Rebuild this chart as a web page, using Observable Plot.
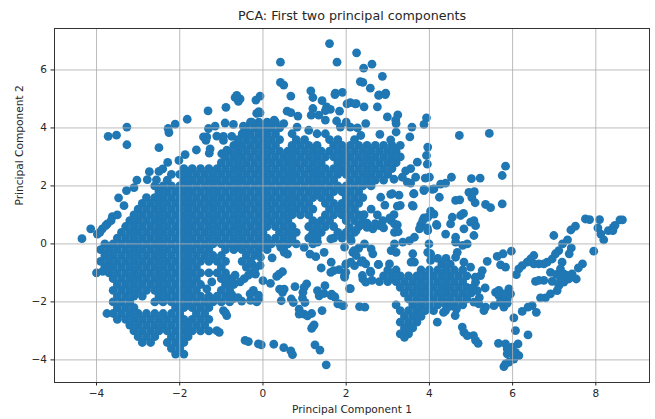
<!DOCTYPE html>
<html>
<head>
<meta charset="utf-8">
<script src="https://cdn.jsdelivr.net/npm/d3@7"></script>
<script src="https://cdn.jsdelivr.net/npm/@observablehq/plot@0.6"></script>
<style>
html,body{margin:0;padding:0;background:#fff;}
svg{display:block;font-family:"DejaVu Sans",sans-serif;}
</style>
</head>
<body>
<div id="chart"></div>
<script>
const titleText = "PCA: First two principal components";
const xLabel = "Principal Component 1";
const yLabel = "Principal Component 2";
const xTicks = [-4,-2,0,2,4,6,8];
const yTicks = [-4,-2,0,2,4,6];

// Dense mass: pc2 of the band, then pc1 of its points.
const bandPc2 = [4.2,4.0,3.8,3.6,3.4,3.2,3.0,2.8,2.6,2.4,2.2,2.0,1.8,1.6,1.4,1.2,1.0,0.8,0.6,0.4,0.2,0,-0.2,-0.4,-0.6,-0.8,-1.0,-1.2,-1.4,-1.6,-1.8,-2.0,-2.2,-2.4,-2.6,-2.8,-3.0,-3.2,-3.4,-3.6,-3.8];
const bandPc1 = [
[-.3,-.1,.1,.3],
[-.4,-.2,0,.2,.4],
[-.5,-.3,-.1,.1,.3,.7,1.3,1.5],
[-.6,-.4,-.2,0,.2,.4,.8,1,1.6,1.8,2.2],
[-.7,-.5,-.3,-.1,.1,.3,.7,.9,1.1,1.3,1.7,1.9,2.1,2.3,2.5,2.7,2.9,3.1,3.3],
[-.8,-.6,-.4,-.2,0,.2,.4,.6,.8,1,1.2,1.4,1.6,1.8,2,2.2,2.4,2.6,2.8,3,3.2],
[-.9,-.7,-.5,-.3,-.1,.1,.3,.5,.7,.9,1.1,1.3,1.5,1.7,1.9,2.1,2.3,2.5,2.7,2.9,3.1,3.3],
[-1,-.8,-.6,-.4,-.2,0,.2,.4,.6,.8,1,1.2,1.4,1.8,2,2.2,2.4,2.6,2.8,3,3.2],
[-1.9,-1.7,-1.5,-1.3,-1.1,-.9,-.7,-.5,-.3,-.1,.1,.3,.5,.7,.9,1.1,1.3,1.5,1.7,1.9,2.1,2.3,2.5,2.7,2.9,3.1],
[-2.2,-2,-1.8,-1.6,-1.4,-1.2,-1,-.8,-.6,-.4,-.2,0,.2,.4,.6,.8,1,1.2,1.4,1.6,1.8,2,2.2,2.4,2.6,2.8,3],
[-2.3,-1.9,-1.7,-1.5,-1.3,-1.1,-.9,-.7,-.5,-.3,-.1,.1,.3,.5,.7,.9,1.1,1.3,1.5,1.7,2.1,2.3,2.5,2.7,2.9],
[-2.6,-2.4,-2.2,-2,-1.8,-1.6,-1.4,-1.2,-1,-.8,-.6,-.4,-.2,0,.2,.4,.6,.8,1,1.2,1.4,1.6,1.8,2,2.2,2.4,2.6],
[-2.5,-2.3,-2.1,-1.9,-1.7,-1.5,-1.3,-1.1,-.9,-.7,-.5,-.3,-.1,.1,.3,.5,.7,.9,1.1,1.3,1.5,1.7,1.9,2.1,2.3],
[-2.8,-2.6,-2.4,-2.2,-2,-1.8,-1.6,-1.4,-1.2,-1,-.8,-.6,-.4,-.2,0,.2,.4,.6,.8,1,1.2,1.4,1.6,2,2.2,2.4],
[-2.9,-2.7,-2.5,-2.3,-2.1,-1.9,-1.7,-1.5,-1.3,-1.1,-.9,-.7,-.5,-.3,-.1,.1,.3,.5,.7,.9,1.1,1.5,1.7,1.9,2.1,2.3],
[-3,-2.8,-2.6,-2.4,-2.2,-2,-1.8,-1.6,-1.4,-1.2,-1,-.8,-.6,-.4,-.2,0,.2,.4,.6,.8,1,1.2,1.6,1.8,2,2.2,2.6],
[-3.1,-2.9,-2.7,-2.5,-2.3,-2.1,-1.9,-1.7,-1.5,-1.3,-1.1,-.9,-.7,-.5,-.3,-.1,.1,.3,.5,.7,.9,1.1,1.5,1.7,1.9,2.1,2.3],
[-3.2,-3,-2.8,-2.6,-2.4,-2.2,-2,-1.8,-1.6,-1.4,-1.2,-1,-.8,-.6,-.4,-.2,0,.2,.4,.6,1.2,1.4,1.6,2,2.2,2.4],
[-3.3,-3.1,-2.9,-2.7,-2.5,-2.3,-2.1,-1.9,-1.7,-1.5,-1.3,-1.1,-.9,-.7,-.5,-.3,-.1,.1,.3,.5,.7,1.1,1.3,1.5,1.7,2.3,2.5],
[-3.4,-3.2,-3,-2.8,-2.6,-2.4,-2.2,-2,-1.8,-1.6,-1.4,-1.2,-1,-.8,-.6,-.4,-.2,0,.4,.6,.8,1.2,1.4,1.8,2,2.2],
[-3.5,-3.3,-3.1,-2.9,-2.7,-2.5,-2.3,-2.1,-1.9,-1.7,-1.5,-1.3,-1.1,-.9,-.7,-.5,-.3,-.1,.1,.3,.5,.7,1.1,1.3,1.7,1.9,2.1],
[-3.8,-3.6,-3.4,-3.2,-3,-2.8,-2.6,-2.4,-2.2,-2,-1.8,-1.6,-1.4,-1.2,-1,-.8,-.6,-.4,-.2,0,.2,.4,.6,.8,1.2],
[-3.9,-3.7,-3.5,-3.3,-3.1,-2.9,-2.7,-2.5,-2.3,-2.1,-1.9,-1.7,-1.5,-1.3,-.9,-.7,-.5,-.3,-.1,.1,.5],
[-3.8,-3.6,-3.4,-3.2,-3,-2.8,-2.6,-2.4,-2.2,-2,-1.8,-1.6,-1.4,-1.2,-1,-.4,-.2],
[-3.9,-3.7,-3.5,-3.3,-3.1,-2.9,-2.7,-2.5,-2.3,-2.1,-1.9,-1.7,-1.5,-1.3,-1.1,-.9,-.5,-.3],
[-3.8,-3.6,-3.4,-3.2,-3,-2.8,-2.6,-2.4,-2.2,-2,-1.8,-1.6,-1,-.4],
[-3.7,-3.5,-3.3,-3.1,-2.9,-2.7,-2.5,-2.3,-2.1,-1.9,-1.7,-1.5,-1.3,-1.1,-.9],
[-3.6,-3.4,-3.2,-3,-2.8,-2.6,-2.4,-2.2,-2,-1.8,-1.6,-1,-.8],
[-3.5,-3.3,-3.1,-2.9,-2.7,-2.5,-2.3,-2.1,-1.9,-1.7,-1.5,-.9,-.7],
[-3.6,-3.4,-3.2,-3,-2.8,-2.6,-2.4,-2.2,-2,-1.8,-1.6,-1,-.8],
[-3.5,-3.3,-3.1,-2.9,-2.5,-2.3,-2.1,-1.9,-1.7,-1.5,-1.3,-1.1,-.9],
[-3.6,-3.4,-3.2,-2.6,-2.4,-2.2,-2,-1.8,-1.6,-1.4,-1.2,-1,-.8],
[-3.5,-3.3,-3.1,-2.1,-1.9,-1.7,-1.5,-1.3],
[-3.75,-3.6,-3.4,-3.2,-3,-2.8,-2.6,-2.4,-2.2,-2,-1.6,-1.4],
[-3.5,-3.3,-3.1,-2.9,-2.7,-2.5,-2.3,-2.1,-1.9,-1.7,-1.5,-1.3],
[-3.2,-3,-2.8,-2.6,-2.4,-2.2,-2,-1.8,-1.6,-1.4],
[-3.1,-2.9,-2.7,-2.5,-2.3,-2.1,-1.9,-1.7,-1.5,-1.3],
[-3,-2.8,-2.6,-2.2,-2,-1.8],
[-2.9,-2.7,-2.3,-2.1,-1.9],
[-2.2,-2],
[-2.1,-1.9]
];
// Right-hand dense cluster, same reading.
const clusterPc2 = [-0.5,-0.7,-0.9,-1.1,-1.3,-1.5,-1.7,-1.9,-2.1,-2.3,-2.5,-2.7,-2.9,-3.1];
const clusterPc1 = [
[4.2,4.4],
[4.3,4.5],
[3,3.2,3.8,4,4.2,4.4,4.6,4.8],
[2.9,3.1,3.3,3.5,3.7,3.9,4.1,4.3,4.5,4.7,4.9],
[2.8,3,3.2,3.4,3.6,3.8,4,4.2,4.4,4.6,4.8],
[3.3,3.5,3.7,3.9,4.1,4.3,4.5,4.7,4.9],
[3.4,3.6,3.8,4,4.2,4.4,4.6,4.8,5],
[3.5,3.7,3.9,4.1,4.3,4.5,4.7,4.9],
[3.2,3.6,3.8,4,4.2,4.4,4.6,4.8],
[3.3,3.5,3.7,3.9,4.1],
[3.4,3.6,3.8],
[3.3,3.5,3.7],
[3.4,3.6],
[3.3,3.5]
];
// Loose points, each read individually as [pc1, pc2].
const loosePoints = [
[-3.72,3.71],[-3.52,3.75],[-3.27,4.03],[-3.27,3.42],[-2.5,3.32],[-2.28,3.98],[-2.26,3.84],[-2.11,4.13],[-1.82,4.3],[-1.32,4.59],[-.89,4.71],[-.59,4.92],[-.55,5.0],[-.67,5.05],[-.63,5.12],[-.17,4.96],[-.07,5.1],
[-1.6,3.24],[-1.87,3.08],[-2.02,2.88],[-2.29,2.81],[-2.41,2.59],[-2.5,2.5],[-2.73,2.49],[-3.03,2.2],[-3.28,1.84],[-3.47,1.59],[-3.1,1.94],[-2.78,2.22],[-2.56,2.21],[-3.34,1.32],
[-4.35,.18],[-4.14,.52],[-3.98,.34],[-3.86,.52],[-3.74,.69],[-3.62,.94],[-3.5,1],[-3.78,.63],[-3.92,.4],[-3.65,.8],
[-1.27,3.28],[-1.29,3.13],[-1.35,3.69],[-1.43,3.69],[-1.37,3.57],[-1.31,3.98],[-1.15,4.06],[-.91,4.17],[-.71,4.12],[-.47,4.06],[-.27,4.2],[-.15,4.5],[-.07,4.52],[-1.11,3.72],[-.95,3.71],[-.95,3.57],[-.75,3.71],[-.99,3.11],[-.87,3.23],[-.35,3.75],[-.6,3.4],
[.42,5.57],[.5,5.48],[.67,5.1],[1.15,5.28],[1.2,5.05],[1.74,5.2],[1.91,5.23],[1.42,4.94],[1.53,4.73],[1.62,4.64],[1.5,4.6],[1.2,4.67],[1.16,4.44],[1.34,4.44],[1.84,4.58],[2.02,4.83],[2.1,4.87],[2.24,4.84],[2.43,4.73],[2.75,4.73],[2.79,5.14],[2.95,5.2],[2.99,4.38],[3.24,4.45],[3.19,4.27],[3.93,4.35],[3.87,4.12],[3.58,4.03],[2.47,4.15],[2.35,3.74],[2.81,3.78],[3.07,3.59],[3.2,3.86],[3.2,4.15],[3.53,3.69],[.58,4.58],[.67,4.53],[.84,4.41],[-.1,4.56],[.27,4.27],[.5,4.15],[.82,4.03],[1.1,3.92],[1.5,4.27],[1.77,4.24],[1.86,4.03],[2,4.2],[2.1,4.03],[2.27,4],
[.42,6.27],[1.6,6.91],[2.25,6.59],[1.78,6.27],[2.42,6.06],[2.62,6.2],[2.87,5.78],[2.34,5.6],[2.4,5.57],[2.58,5.37],[2.78,5.12],[2.94,5.15],[1.73,5.15],[2.22,4.83],[4.72,3.74],[5.44,3.81],
[3.96,3.34],[3.93,3.05],[3.95,2.75],[3.71,2.82],[3.55,2.6],[3.43,2.52],[3.67,2.3],[3.47,2.13],[3.62,1.73],[3.87,1.84],[4.63,1.5],[4.73,1.52],[4.95,1.78],[5.08,1.8],[5.02,1.6],[5.1,1.42],[5.35,1.36],[5.47,1.25],[5.75,1.38],[5.83,2.68],[5.75,2.36],[5.22,2.27],[5.01,2.25],[4.53,2.3],[4.39,2.1],[4.27,2.06],[4.24,1.61],[4.11,1.9],[4,2.3],[3.9,2.27],[4.07,1.88],[3.87,1.88],[3.59,1.33],[3.3,1.33],[3.11,1.73],[3.27,1.68],[2.83,1.61],[2.93,1.34],[3.23,1.3],[3.61,1.3],[3.07,1.71],[3.63,1.73],[3.15,2.23],[3.55,2.1],[3.35,2.3],[4.03,1.13],[3.87,.9],[3.79,.66],[4.18,.64],[3.95,.55],[3.15,1.01],[3.23,.66],[3.05,.9],[2.75,1],[2.43,1.01],[2.5,.72],[2.9,.55],[2.7,.7],
[4.17,.67],[3.96,.46],[3.76,.52],[3.84,.8],[3.96,.92],[4.11,1.03],[4.75,.98],[4.82,1.05],[4.55,.92],[5.07,.8],[5.11,.63],[4.99,.75],[4.83,.52],[5.07,.29],[4.91,0],[4.8,-.05],[4.67,-.29],[4.63,-.46],[4.39,.34],[4.51,.69],[4.63,.23],[4.63,.06],[4.83,-.63],[4.99,-.8],[3.99,0],[3.96,-.29],[4.03,-.34],[4.03,-.57],[3.6,-.34],[3.64,-.63],[3.56,-.63],[3.52,.11],[3.64,.23],[3.36,.06],[3.16,0],[3.2,-.29],[3.08,-.23],[3.04,-.69],[2.78,-.71],[2.58,-.94],[2.4,-1.21],[2.62,-1.26],[3.16,.4],[3.25,.42],[3.08,.8],[3.16,.69],[2.88,.8],[2.8,.63],[2.64,.52],[2.5,.57],[2.32,.63],[2.24,.46],[2.08,.57],[2.12,.11],[1.96,-.11],[2.16,-.29],[2.24,-.4],[2.2,-.75],[2.36,-.63],[2.6,-.17],[2.64,-.34],[2.44,0],[2.3,-.15],[2,-.69],[1.96,-1.09],[2.1,-1.54],[2.32,-2.16],[2.45,-2.18],[1.92,-2.13],[1.84,-2.07],[1.72,-1.82],[1.64,-1.78],[2.47,-1.32],[2.39,-1.09],[2.59,-.98],[2.77,-.71],[2.47,-.69],[2.39,-.58],[2.11,-.63],[2.19,-.23],
[-.04,-3.48],[.26,-3.46],[.5,-3.58],[.67,-3.69],[.71,-3.82],[1.25,-3.48],[1.37,-3.66],[1.52,-4.17],[1.17,-2.91],[1.23,-2.79],[1.2,-2.85],[1.42,-2.3],[2.08,-1.54],[1.49,-1.44],[1.4,-.83],[1.64,-.63],[.22,-.48],[0,-1.27],[.18,-1.36],[.39,-1.04],[.47,-.96],[.33,-1.12],[.77,-1.47],[1.05,-1.38],[.99,-1.5],[.96,-1.67],[.4,-1.56],[.51,-1.56],[.47,-1.67],[.44,-1.96],[.68,-1.9],[.73,-2.02],[.95,-1.87],[1.01,-2.02],[.87,-2.25],[.87,-2.42],[.99,-2.42],[1.17,-2.4],[1.07,-2.48],[1.31,-1.61],[1.35,-1.79],[1.47,-1.71],[1.65,-1.73],[1.73,-1.84],[1.8,-2.07],[1.93,-2.12],[1.63,-.98],[1.7,-.92],[1.83,-.89],[1.99,-.98],[1.96,-1.15],[1.99,-.71],[-.18,-1.04],[-.26,-1.0],[-.1,-1.9],[-.1,-1.78],[-.26,-1.67],[-.26,-.7],[-.14,-.35],[-.06,-.46],[.99,-.12],[1.13,-.35],[1.27,-.44],[1.47,-.29],[1.63,.17],[1.13,.23],[1.31,.06],[.51,-.29],[.59,-.35],[.43,-.12],
[-1.23,-1.31],[-1.35,-1.55],[-.67,-1.08],[-.55,-1.31],[-.45,-1.2],[-.35,-1.08],[-.19,-.85],[-.07,-.74],[-.23,-1.6],[-.11,-1.78],[-.71,-1.89],[-.51,-1.97],[-.31,-1.72],[-.87,-1.37],[-.75,-1.25],[-.9,-1.2],[-1.11,-2.99],[-1.05,-3.05],[-.43,-3.33],[-.35,-3.37],[-.11,-3.45],[-.95,-2.3],[-.87,-2.47],[-.9,-2.38],[-.75,-1.75],[-.6,-1.85],[-.3,-1.95],[-.15,-2],
[-4,-1],[-3.85,-.95],[-3.7,-.9],
[7.75,.86],[7.85,.84],[8.09,.84],[8.05,.55],[8.12,.34],[8.19,.14],[7.95,-.25],[8.3,.46],[8.42,.57],[8.46,.64],[8.58,.83],[8.64,.83],[8.41,.46],[7.51,.61],[7.4,.48],[6.99,.29],[7.32,.14],[7.2,0],[7.41,-.14],[7.36,-.34],[7.11,-.23],[7.03,-.34],[6.95,-.52],[6.83,-.63],[6.75,-.69],[6.63,-.69],[6.51,-.4],[6.43,-.52],[6.35,-.63],[6.23,-.75],[6.15,-.86],[6.09,-1.06],[6.51,-.69],[6.91,-.98],[7.19,-.63],[7.15,-.86],[7.68,-.69],[7.58,-.83],[7.53,-1.21],[7.43,-1.03],[7.31,-1.09],[7.23,-1.03],[7.35,-1.21],[7.23,-1.32],[7.11,-1.44],[7.07,-1.61],[6.91,-1.72],[6.79,-1.86],[6.67,-1.86],[6.75,-1.26],[6.95,-1.29],[6.55,-1.29],[6.63,-1.26],[7.15,-1.26],[7.05,-1.05],[6.47,-2.13],[6.37,-2.18],[6.57,-2.36],[6.23,-2.33],[6.03,-2.55],[6.07,-2.99],[6.37,-3.14],[6.13,-3.45],[5.66,-3.43],[5.83,-3.45],[5.87,-3.62],[5.95,-3.74],[6.15,-3.85],[6.03,-3.97],[5.91,-4.08],[5.79,-4.23],[5.83,-4.14],[5.87,-3.79],[5.99,-3.56],[6.07,-3.74],[5.97,-.25],[5.77,-.34],[5.63,-.43],[5.71,-.72],[5.83,-.8],[5.39,-.6],
[5.59,-1.67],[5.67,-1.6],[5.91,-1.55],[5.95,-1.72],[5.87,-1.9],[5.75,-1.9],[5.55,-2.13],[5.79,-2.18],[5.67,-1.78],[5.79,-1.72],[5.34,-1.52],[5.31,-2.3],[5.35,-2.18],[5.19,-2.07],[5.07,-2.01],[5.27,-.92],[5.23,-1.09],[5.11,-1.32],[5.15,-1.61],[5.87,-2.05],[5.7,-2.02],[5.05,-1.5],[5.2,-1.85],[5.1,-1.15],
[4.19,-2.7],[4.62,-2.47],[4.39,-2.3],[4.34,-2.36],[4.79,-2.87],[4.83,-3.05],[4.91,-3.16],[5.06,-3.16],[5.11,-3.33],[5.17,-3.43],[4.65,-2.25],[4.5,-2.15],[3.45,-2.95],[3.4,-3.22]
];

const points = [
  ...bandPc2.flatMap((y, i) => bandPc1[i].map(x => [x, y])),
  ...clusterPc2.flatMap((y, i) => clusterPc1[i].map(x => [x, y])),
  ...loosePoints
];

const plot = Plot.plot({
  width: 655,
  height: 419,
  marginLeft: 54,
  marginRight: 6,
  marginTop: 28,
  marginBottom: 37,
  style: {fontFamily: '"DejaVu Sans", sans-serif', fontSize: "10.5px", color: "#262626", background: "#fff"},
  x: {domain: [-5.01, 9.29], label: null},
  y: {domain: [-4.78, 7.43], label: null},
  marks: [
    Plot.dot(points, {x: d => d[0], y: d => d[1], r: 4.4, fill: "#1f77b4", stroke: "none"}),
    Plot.gridX(xTicks, {stroke: "#b0b0b0", strokeOpacity: 0.85, strokeWidth: 1}),
    Plot.gridY(yTicks, {stroke: "#b0b0b0", strokeOpacity: 0.85, strokeWidth: 1}),
    Plot.frame({stroke: "#333", strokeWidth: 1}),
    Plot.axisX({ticks: xTicks, tickSize: 3.5, tickPadding: 4, label: null, fontSize: 10.5}),
    Plot.axisY({ticks: yTicks, tickSize: 3.5, tickPadding: 4, label: null, fontSize: 10.5}),
    Plot.text([titleText], {frameAnchor: "top", dy: -18, lineAnchor: "top", fontSize: 12.7, fill: "#262626"}),
    Plot.text([xLabel], {frameAnchor: "bottom", dy: 23, lineAnchor: "top", fontSize: 10.6, fill: "#262626"}),
    Plot.text([yLabel], {frameAnchor: "left", dx: -35, rotate: -90, fontSize: 10.6, fill: "#262626"})
  ]
});
document.getElementById("chart").appendChild(plot);
</script>
</body>
</html>
